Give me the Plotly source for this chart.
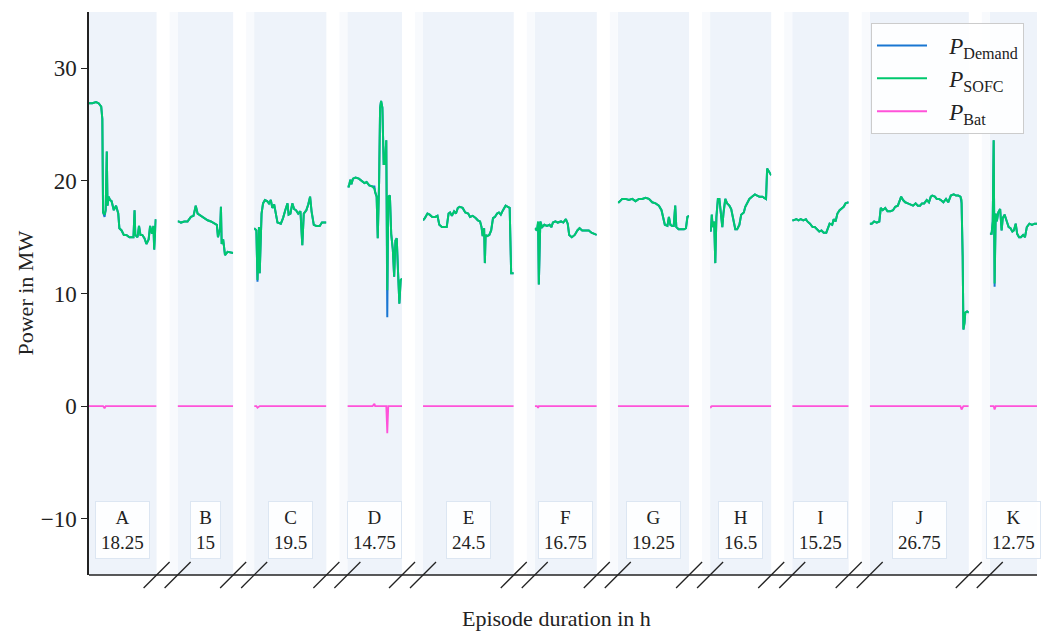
import plotly.graph_objects as go
from plotly.subplots import make_subplots

# ---------------- data ----------------
episodes = ["A", "B", "C", "D", "E", "F", "G", "H", "I", "J", "K"]
durations = [18.25, 15, 19.5, 14.75, 24.5, 16.75, 19.25, 16.5, 15.25, 26.75, 12.75]

t_A = [0, 0.9, 1.9, 2.6, 3.3, 3.6, 3.8, 4.2, 4.5, 4.8, 5.0, 5.3, 5.7, 6.1, 6.7, 7.3, 7.9, 8.2, 8.8, 9.4,
       10.1, 10.9, 11.6, 12.0, 12.3, 12.5, 13.1, 13.5, 13.9, 14.4, 15.0, 15.5, 16.1, 16.5, 17.0, 17.4, 17.6, 18.0, 18.25]
sofc_A = [26.9, 26.9, 27.0, 26.9, 26.6, 25.5, 17.2, 17.0, 17.4, 22.6, 17.8, 18.6, 18.3, 18.2, 17.4, 17.8, 17.1, 15.8, 15.6, 15.2,
          15.2, 15.0, 15.0, 15.0, 17.4, 15.2, 15.0, 16.0, 15.2, 15.2, 14.9, 14.4, 14.8, 16.0, 15.3, 16.0, 13.9, 16.5, 16.5]
bat_A = [0, 0, 0, 0, 0, 0, 0, -0.2, 0, 0, 0, 0, 0, 0, 0, 0, 0, 0, 0, 0,
         0, 0, 0, 0, 0, 0, 0, 0, 0, 0, 0, 0, 0, 0, 0, 0, 0, 0, 0]

t_B = [0, 0.3, 0.9, 1.8, 2.7, 3.6, 4.3, 4.9, 5.4, 6.3, 7.2, 8.1, 9.0, 9.9, 10.6, 10.9, 11.5, 11.7, 11.9, 12.3,
       12.6, 12.8, 13.5, 14.4, 15]
sofc_B = [16.4, 16.4, 16.3, 16.4, 16.4, 16.8, 16.9, 17.8, 17.1, 16.9, 16.7, 16.5, 16.4, 16.2, 16.1, 15.0, 15.8, 17.7, 14.4, 14.8,
          14.2, 13.4, 13.7, 13.6, 13.6]
bat_B = [0, 0, 0, 0, 0, 0, 0, 0, 0, 0, 0, 0, 0, 0, 0, 0, 0, 0, 0, 0,
         0, 0, 0, 0, 0]

t_C = [0, 0.6, 0.9, 1.3, 1.5, 2.0, 2.4, 2.9, 3.5, 4.0, 4.5, 4.9, 5.4, 5.8, 6.3, 7.2, 7.8, 8.4, 9.0, 9.3,
       9.8, 10.3, 10.8, 11.3, 11.9, 12.5, 13.0, 13.4, 14.1, 14.6, 15.1, 15.5, 16.1, 16.8, 17.7, 18.3, 19.2, 19.5]
sofc_C = [15.8, 15.6, 11.2, 15.9, 11.8, 17.1, 18.0, 18.3, 18.2, 18.0, 18.3, 17.6, 17.9, 17.3, 16.3, 16.2, 16.7, 17.4, 18.0, 17.0,
          17.1, 18.0, 17.5, 17.4, 17.1, 17.3, 14.3, 17.1, 17.4, 17.9, 18.6, 17.3, 16.1, 16.0, 16.0, 16.3, 16.3, 16.3]
bat_C = [0, 0, -0.15, 0, 0, 0, 0, 0, 0, 0, 0, 0, 0, 0, 0, 0, 0, 0, 0, 0,
         0, 0, 0, 0, 0, 0, 0, 0, 0, 0, 0, 0, 0, 0, 0, 0, 0, 0]

t_D = [0, 0.4, 0.8, 1.1, 1.5, 2.2, 3.1, 4.0, 4.6, 5.2, 5.9, 6.8, 7.3, 7.5, 7.9, 8.2, 8.57, 8.83, 9.1, 9.45,
       9.8, 10.15, 10.5, 10.77, 11.04, 11.48, 11.83, 12.27, 12.63, 12.98, 13.33, 13.69, 14.04, 14.39, 14.75]
sofc_D = [19.5, 19.5, 20.1, 19.7, 20.2, 20.3, 20.2, 20.0, 19.8, 19.9, 19.6, 19.5, 19.3, 19.0, 18.6, 14.9, 20.0, 26.5, 27.1, 26.5,
          21.5, 21.5, 23.6, 10.3, 18.6, 18.7, 15.3, 13.9, 11.5, 14.7, 14.9, 11.8, 9.1, 11.2, 11.3]
bat_D = [0, 0, 0, 0, 0, 0, 0, 0, 0, 0, 0, 0, 0.2, 0, 0, 0, 0, 0, 0, 0,
         0, 0, 0, -2.4, 0, 0, 0, 0, 0, 0, 0, 0, 0, 0, 0]

t_E = [0, 0.5, 1.2, 1.8, 2.5, 3.3, 3.9, 4.4, 5.1, 6.0, 6.4, 6.9, 7.3, 7.8, 8.4, 8.9, 9.4, 9.9, 10.7, 11.4,
       12.2, 12.7, 13.4, 14.2, 14.8, 15.4, 15.8, 16.1, 16.5, 16.7, 16.9, 17.3, 17.9, 18.4, 18.9, 19.4, 20.0, 20.5, 21.0, 21.6,
       22.3, 22.9, 23.4, 23.8, 24.3, 24.5]
sofc_E = [16.5, 16.7, 17.1, 17.0, 16.8, 16.8, 16.9, 16.1, 15.9, 15.9, 15.9, 17.1, 17.2, 16.9, 17.3, 17.1, 17.6, 17.7, 17.6, 17.2,
          17.1, 16.8, 16.9, 16.7, 16.5, 16.4, 15.9, 15.1, 15.8, 12.7, 15.2, 15.1, 15.2, 15.6, 16.7, 16.8, 17.1, 17.2, 17.0, 17.4,
          17.8, 17.7, 17.6, 11.8, 11.8, 11.8]
bat_E = [0, 0, 0, 0, 0, 0, 0, 0, 0, 0, 0, 0, 0, 0, 0, 0, 0, 0, 0, 0,
         0, 0, 0, 0, 0, 0, 0, 0, 0, 0, 0, 0, 0, 0, 0, 0, 0, 0, 0, 0,
         0, 0, 0, 0, 0, 0]

t_F = [0, 0.6, 0.9, 1.1, 1.5, 2.0, 2.6, 3.3, 4.0, 4.5, 4.9, 5.6, 6.2, 7.1, 7.7, 8.4, 8.9, 9.3, 10.0, 10.8,
       11.5, 12.1, 12.8, 13.7, 14.6, 15.3, 15.9, 16.5, 16.75]
sofc_F = [15.8, 15.6, 16.4, 10.8, 16.4, 15.9, 16.1, 16.0, 16.1, 15.9, 16.3, 16.4, 16.3, 16.4, 16.3, 16.6, 16.2, 15.2, 15.0, 15.2,
          15.6, 15.8, 15.6, 15.6, 15.6, 15.4, 15.3, 15.2, 15.2]
bat_F = [0, 0, -0.15, 0, 0, 0, 0, 0, 0, 0, 0, 0, 0, 0, 0, 0, 0, 0, 0, 0,
         0, 0, 0, 0, 0, 0, 0, 0, 0]

t_G = [0, 0.3, 1.2, 2.1, 3.0, 3.9, 4.8, 5.7, 6.6, 7.5, 8.4, 9.3, 10.2, 11.1, 11.8, 12.3, 12.7, 13.4, 13.8, 14.2,
       14.7, 15.1, 15.5, 15.8, 16.4, 17.0, 17.9, 18.4, 18.8, 19.25]
sofc_G = [18.1, 18.1, 18.4, 18.4, 18.3, 18.4, 18.2, 18.4, 18.4, 18.5, 18.4, 18.1, 18.0, 17.8, 17.4, 16.7, 16.1, 16.0, 16.8, 16.1,
          16.0, 16.0, 17.8, 15.9, 15.7, 15.7, 15.7, 15.8, 16.8, 16.9]
bat_G = [0, 0, 0, 0, 0, 0, 0, 0, 0, 0, 0, 0, 0, 0, 0, 0, 0, 0, 0, 0,
         0, 0, 0, 0, 0, 0, 0, 0, 0, 0]

t_H = [0, 0.2, 0.45, 0.7, 1.1, 1.4, 1.7, 2.1, 2.5, 2.9, 3.3, 3.6, 4.1, 4.6, 5.2, 5.7, 6.3, 6.8, 7.3, 7.9,
       8.4, 9.1, 9.5, 10.1, 10.6, 11.3, 12.1, 12.7, 13.3, 14.1, 14.8, 15.1, 15.4, 15.9, 16.3, 16.5]
sofc_H = [15.6, 15.6, 17.0, 15.9, 16.4, 12.7, 16.8, 18.4, 18.4, 17.1, 15.9, 17.1, 18.4, 18.0, 17.8, 17.5, 16.5, 15.7, 15.7, 16.1,
          17.0, 17.2, 17.7, 18.1, 18.4, 18.6, 18.8, 18.7, 18.6, 18.6, 18.4, 18.4, 21.1, 20.8, 20.5, 20.5]
bat_H = [0, -0.1, 0, 0, 0, 0, 0, 0, 0, 0, 0, 0, 0, 0, 0, 0, 0, 0, 0, 0,
         0, 0, 0, 0, 0, 0, 0, 0, 0, 0, 0, 0, 0, 0, 0, 0]

t_I = [0, 0.35, 1.1, 1.7, 2.3, 3.0, 3.7, 4.1, 4.8, 5.5, 6.1, 6.6, 7.3, 7.9, 8.5, 9.2, 9.7, 10.1, 10.8, 11.2,
       11.7, 12.2, 12.8, 13.4, 13.9, 14.4, 15.0, 15.25]
sofc_I = [16.5, 16.5, 16.6, 16.5, 16.6, 16.5, 16.6, 16.4, 16.2, 15.9, 15.9, 15.7, 15.5, 15.6, 15.4, 15.4, 15.9, 16.2, 16.1, 16.6,
          16.4, 17.1, 17.4, 17.6, 17.7, 18.0, 18.1, 18.1]
bat_I = [0, 0, 0, 0, 0, 0, 0, 0, 0, 0, 0, 0, 0, 0, 0, 0, 0, 0, 0, 0,
         0, 0, 0, 0, 0, 0, 0, 0]

t_J = [0, 0.55, 1.2, 1.9, 2.6, 3.0, 3.5, 4.2, 4.8, 5.6, 6.3, 6.9, 7.6, 8.1, 8.5, 9.0, 9.6, 10.3, 11.0, 11.7,
       12.4, 13.0, 13.6, 14.1, 14.7, 15.4, 16.0, 16.5, 16.9, 17.6, 18.1, 18.7, 19.2, 19.9, 20.6, 21.2, 21.9, 22.7, 23.3, 23.9,
       24.5, 24.8, 25.1, 25.3, 25.6, 25.8, 26.3, 26.75]
sofc_J = [16.2, 16.2, 16.4, 16.3, 16.4, 17.6, 17.4, 17.6, 17.3, 17.3, 17.4, 17.7, 17.8, 18.3, 18.6, 18.3, 18.1, 18.0, 17.9, 17.8,
          18.0, 17.8, 17.8, 18.0, 18.0, 18.3, 18.1, 18.6, 18.7, 18.6, 18.4, 18.4, 18.3, 18.1, 18.4, 18.1, 18.7, 18.8, 18.7, 18.7,
          18.6, 18.3, 13.3, 6.8, 7.4, 8.3, 8.4, 8.3]
bat_J = [0, 0, 0, 0, 0, 0, 0, 0, 0, 0, 0, 0, 0, 0, 0, 0, 0, 0, 0, 0,
         0, 0, 0, 0, 0, 0, 0, 0, 0, 0, 0, 0, 0, 0, 0, 0, 0, 0, 0, 0,
         0, -0.3, 0, 0, 0, 0, 0, 0]

t_K = [0, 0.5, 0.8, 1.05, 1.3, 1.6, 1.9, 2.3, 2.8, 3.2, 3.5, 4.0, 4.6, 5.1, 5.6, 6.1, 6.5, 7.0, 7.4, 7.9,
       8.4, 9.0, 9.5, 10.0, 10.7, 11.4, 12.1, 12.75]
sofc_K = [15.3, 15.3, 16.4, 23.6, 10.9, 17.1, 16.4, 17.2, 17.5, 15.6, 16.7, 17.0, 16.4, 15.9, 15.8, 15.5, 15.6, 16.2, 15.3, 15.0,
          15.0, 15.2, 15.0, 15.9, 16.2, 16.1, 16.2, 16.2]
bat_K = [0, 0, 0, 0, -0.3, 0, 0, 0, 0, 0, 0, 0, 0, 0, 0, 0, 0, 0, 0, 0,
         0, 0, 0, 0, 0, 0, 0, 0]

y_ticks = [-10, 0, 10, 20, 30]
y_range = [-15, 35]

times = [t_A, t_B, t_C, t_D, t_E, t_F, t_G, t_H, t_I, t_J, t_K]
sofcs = [sofc_A, sofc_B, sofc_C, sofc_D, sofc_E, sofc_F, sofc_G, sofc_H, sofc_I, sofc_J, sofc_K]
bats = [bat_A, bat_B, bat_C, bat_D, bat_E, bat_F, bat_G, bat_H, bat_I, bat_J, bat_K]

# ---------------- style ----------------
W, H = 1045, 632
ML, MR, MT, MB = 89, 8, 12, 57
PW, PH = W - ML - MR, H - MT - MB
GAP = 21
FONT = "Liberation Serif"
C_DEM = "#1976D2"
C_SOFC = "#00C86E"
C_BAT = "#FF52D9"
BG = "#EEF3FA"
INK = "#222222"
SP = "&nbsp;&nbsp;&nbsp;"

n = len(episodes)
fig = make_subplots(rows=1, cols=n, shared_yaxes=True, column_widths=durations,
                    horizontal_spacing=GAP / PW)

for i in range(n):
    t, s, b = times[i], sofcs[i], bats[i]
    assert len(t) == len(s) == len(b), episodes[i]
    dem = [si + bi for si, bi in zip(s, b)]
    first = i == 0
    fig.add_trace(go.Scatter(x=t, y=dem, mode="lines", line=dict(color=C_DEM, width=2),
                             name=SP + "<i>P</i><sub>Demand</sub>", legendgroup="dem", showlegend=first),
                  row=1, col=i + 1)
    fig.add_trace(go.Scatter(x=t, y=s, mode="lines", line=dict(color=C_SOFC, width=2),
                             name=SP + "<i>P</i><sub>SOFC</sub>", legendgroup="sofc", showlegend=first),
                  row=1, col=i + 1)
    fig.add_trace(go.Scatter(x=t, y=b, mode="lines", line=dict(color=C_BAT, width=1.8),
                             name=SP + "<i>P</i><sub>Bat</sub>", legendgroup="bat", showlegend=first),
                  row=1, col=i + 1)
    fig.update_xaxes(range=[0, durations[i]], row=1, col=i + 1)

fig.update_xaxes(showticklabels=False, showgrid=False, zeroline=False, showline=False, ticks="")
fig.update_yaxes(range=y_range, showgrid=False, zeroline=False, showline=False,
                 showticklabels=False, ticks="")
fig.update_yaxes(row=1, col=1, showline=True, linecolor=INK, linewidth=1.5,
                 ticks="outside", ticklen=6, tickwidth=1.3, tickcolor=INK,
                 tickvals=y_ticks, showticklabels=True,
                 tickfont=dict(family=FONT, size=23, color=INK))

shapes = []
# faint strips at the left edge of each following panel (inside the gaps)
for i in range(1, n):
    shapes.append(dict(type="rect", xref=f"x{i + 1} domain", yref="paper",
                       xsizemode="pixel", xanchor=0, x0=-8, x1=0, y0=0, y1=1,
                       fillcolor="#F8FAFD", line=dict(width=0), layer="below"))
shapes.append(dict(type="line", xref="paper", yref="paper", x0=0, x1=1, y0=0, y1=0,
                   line=dict(color=INK, width=1.5)))
for i in range(n - 1):
    for ax, anchor in ((i + 1, 1), (i + 2, 0)):
        xr = "x domain" if ax == 1 else f"x{ax} domain"
        shapes.append(dict(type="line", xref=xr, yref="paper",
                           xsizemode="pixel", xanchor=anchor, x0=-13, x1=13,
                           ysizemode="pixel", yanchor=0, y0=-13, y1=13,
                           line=dict(color=INK, width=1.3)))

annotations = []
for i in range(n):
    xr = "x domain" if i == 0 else f"x{i + 1} domain"
    yr = "y" if i == 0 else f"y{i + 1}"
    annotations.append(dict(xref=xr, yref=yr, x=0.5, y=-11, showarrow=False,
                            text=f"{episodes[i]}<br>{durations[i]:g}",
                            font=dict(family=FONT, size=19, color=INK),
                            bgcolor="rgba(255,255,255,0.85)", bordercolor="#DCE6F2",
                            borderwidth=1, borderpad=5, align="center"))
annotations.append(dict(xref="paper", yref="paper", x=(25 - ML) / PW, y=0.5, textangle=-90,
                        showarrow=False, text="Power in MW", xanchor="center", yanchor="middle",
                        font=dict(family=FONT, size=22, color=INK)))
annotations.append(dict(xref="paper", yref="paper", x=0.493, y=-(618 - (MT + PH)) / PH,
                        showarrow=False, text="Episode duration in h", xanchor="center",
                        yanchor="middle", font=dict(family=FONT, size=22, color=INK)))

fig.update_layout(
    width=W, height=H,
    margin=dict(l=ML, r=MR, t=MT, b=MB),
    paper_bgcolor="white", plot_bgcolor=BG,
    shapes=shapes, annotations=annotations,
    legend=dict(x=(1024 - ML) / PW, y=1 - (23 - MT) / PH, xanchor="right", yanchor="top",
                bgcolor="rgba(255,255,255,0.85)", bordercolor="#CCCCCC", borderwidth=1,
                font=dict(family=FONT, size=23, color=INK), itemwidth=50, tracegroupgap=0),
    showlegend=True,
)

fig.write_html("out.html")
